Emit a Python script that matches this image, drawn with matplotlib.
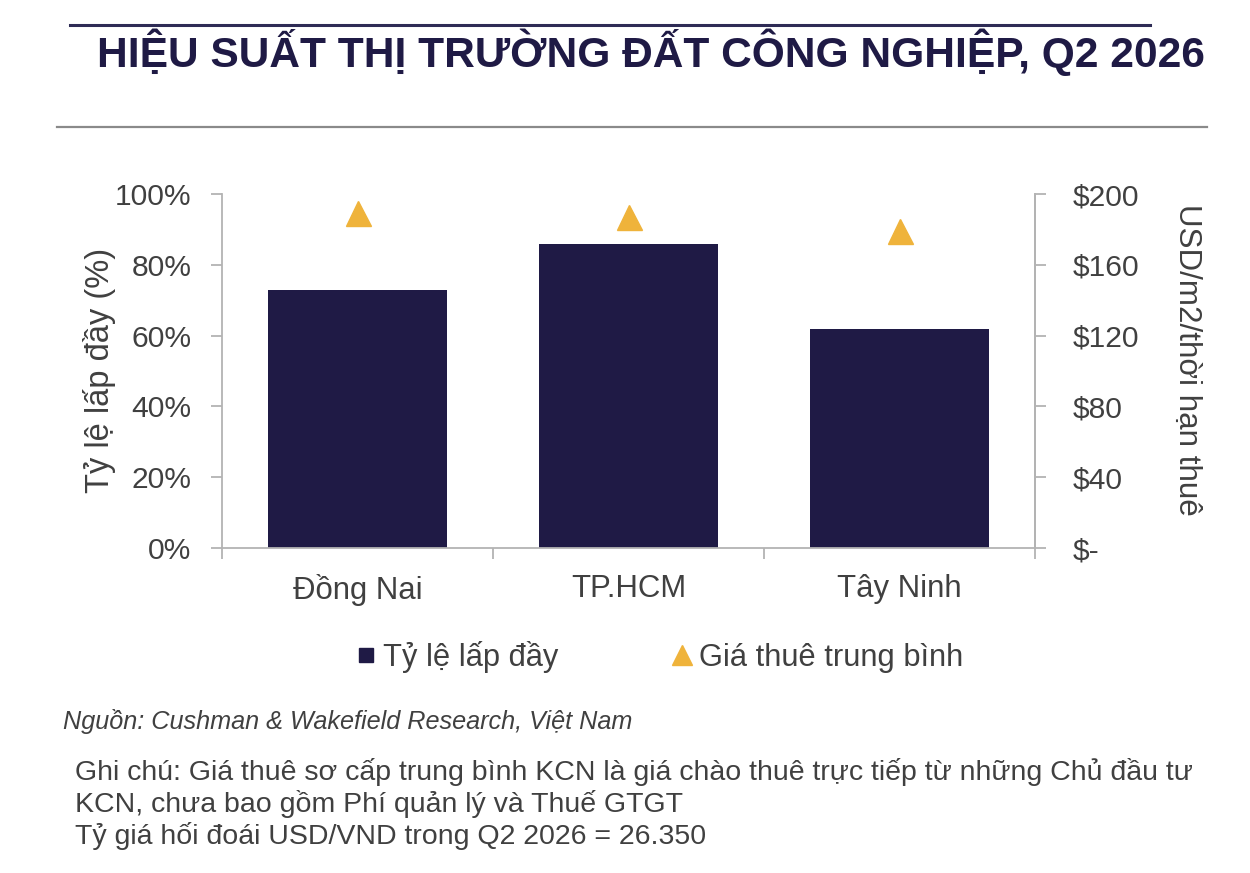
import matplotlib
matplotlib.use("Agg")
import matplotlib.pyplot as plt
from matplotlib.lines import Line2D
from matplotlib import font_manager

categories = ["Đồng Nai", "TP.HCM", "Tây Ninh"]
occupancy = [73, 86, 62]          # %
rent = [189, 187, 179]            # USD/m2/term
left_ticks = [0, 20, 40, 60, 80, 100]
left_labels = ["0%", "20%", "40%", "60%", "80%", "100%"]
right_ticks = [0, 40, 80, 120, 160, 200]
right_labels = ["$-", "$40", "$80", "$120", "$160", "$200"]

title = "HIỆU SUẤT THỊ TRƯỜNG ĐẤT CÔNG NGHIỆP, Q2 2026"
ylabel_left = "Tỷ lệ lấp đầy (%)"
ylabel_right = "USD/m2/thời hạn thuê"
legend_labels = ["Tỷ lệ lấp đầy", "Giá thuê trung bình"]
source = "Nguồn: Cushman & Wakefield Research, Việt Nam"
notes = ["Ghi chú: Giá thuê sơ cấp trung bình KCN là giá chào thuê trực tiếp từ những Chủ đầu tư",
         "KCN, chưa bao gồm Phí quản lý và Thuế GTGT",
         "Tỷ giá hối đoái USD/VND trong Q2 2026 = 26.350"]

NAVY = "#1f1a45"
GOLD = "#efb33b"
TXT = "#404040"
SPINE = "#b3b3b3"

names = {f.name for f in font_manager.fontManager.ttflist}
narrow = "Liberation Sans Narrow" if "Liberation Sans Narrow" in names else None
plt.rcParams["font.family"] = ["Liberation Sans", "DejaVu Sans"]

W, H = 1250, 873
fig = plt.figure(figsize=(W / 100, H / 100), dpi=100)

def fx(px):
    return px / W

def fy(py):
    return 1 - py / H

# header lines
fig.add_artist(Line2D([fx(70), fx(1150)], [fy(25), fy(25)], color="#2e2b55", lw=2.2))
fig.add_artist(Line2D([fx(57), fx(1207)], [fy(127), fy(127)], color="#8a8a8a", lw=1.6))

if narrow:
    fig.text(fx(97), fy(67), title, family=[narrow, "Liberation Sans"], fontweight="bold",
             fontsize=30, color=NAVY, ha="left", va="baseline")
else:
    fig.text(fx(97), fy(67), title, fontweight="bold", fontsize=30.6, color=NAVY,
             ha="left", va="baseline")

left, right, top, bottom = 222, 1035, 194, 548
ax = fig.add_axes([fx(left), fy(bottom), fx(right - left), (bottom - top) / H])
x = list(range(len(categories)))
ax.bar(x, occupancy, width=0.66, color=NAVY, zorder=2)
ax.set_xlim(-0.5, 2.5)
ax.set_ylim(0, 100)
ax.set_yticks(left_ticks)
ax.set_yticklabels(left_labels)
ax.set_xticks(x)
ax.set_xticklabels(categories)
ax.set_xticks([-0.5, 0.5, 1.5, 2.5], minor=True)
ax.tick_params(axis="x", which="major", length=0, pad=19, labelsize=22.4, labelcolor=TXT)
ax.tick_params(axis="x", which="minor", length=8, width=1.3, color=SPINE, direction="out")
ax.tick_params(axis="y", length=8, width=1.3, color=SPINE, pad=14, labelsize=21.6, labelcolor=TXT)
ax.spines["top"].set_visible(False)
for s in ["left", "right", "bottom"]:
    ax.spines[s].set_color(SPINE)
    ax.spines[s].set_linewidth(1.3)

ax2 = ax.twinx()
ax2.plot(x, rent, linestyle="none", marker="^", markersize=18, color=GOLD, zorder=3)
ax2.set_ylim(0, 200)
ax2.set_yticks(right_ticks)
ax2.set_yticklabels(right_labels)
ax2.tick_params(axis="y", length=8, width=1.3, color=SPINE, pad=19, labelsize=21.6, labelcolor=TXT)
for s in ["top", "left", "bottom"]:
    ax2.spines[s].set_visible(False)
ax2.spines["right"].set_color(SPINE)
ax2.spines["right"].set_linewidth(1.3)

fig.text(fx(100), fy(370), ylabel_left, rotation=90, ha="center", va="center",
         fontsize=23.5, color=TXT)
fig.text(fx(1187), fy(360), ylabel_right, rotation=270, ha="center", va="center",
         fontsize=22.6, color=TXT)

handles = [Line2D([], [], linestyle="none", marker="s", markersize=10, color=NAVY),
           Line2D([], [], linestyle="none", marker="^", markersize=15, color=GOLD)]
fig.legend(handles, legend_labels, loc="center", bbox_to_anchor=(fx(660), fy(657)),
           ncol=2, frameon=False, fontsize=22.2, labelcolor=TXT, handlelength=0.6,
           handletextpad=0.25, columnspacing=3.7)

fig.text(fx(63), fy(722), source, style="italic", fontsize=18.2, color=TXT,
         ha="left", va="center")
for i, line in enumerate(notes):
    fig.text(fx(75), fy(772 + 32 * i), line, fontsize=20.5, color=TXT, ha="left", va="center")

fig.savefig("out.png", dpi=100)
